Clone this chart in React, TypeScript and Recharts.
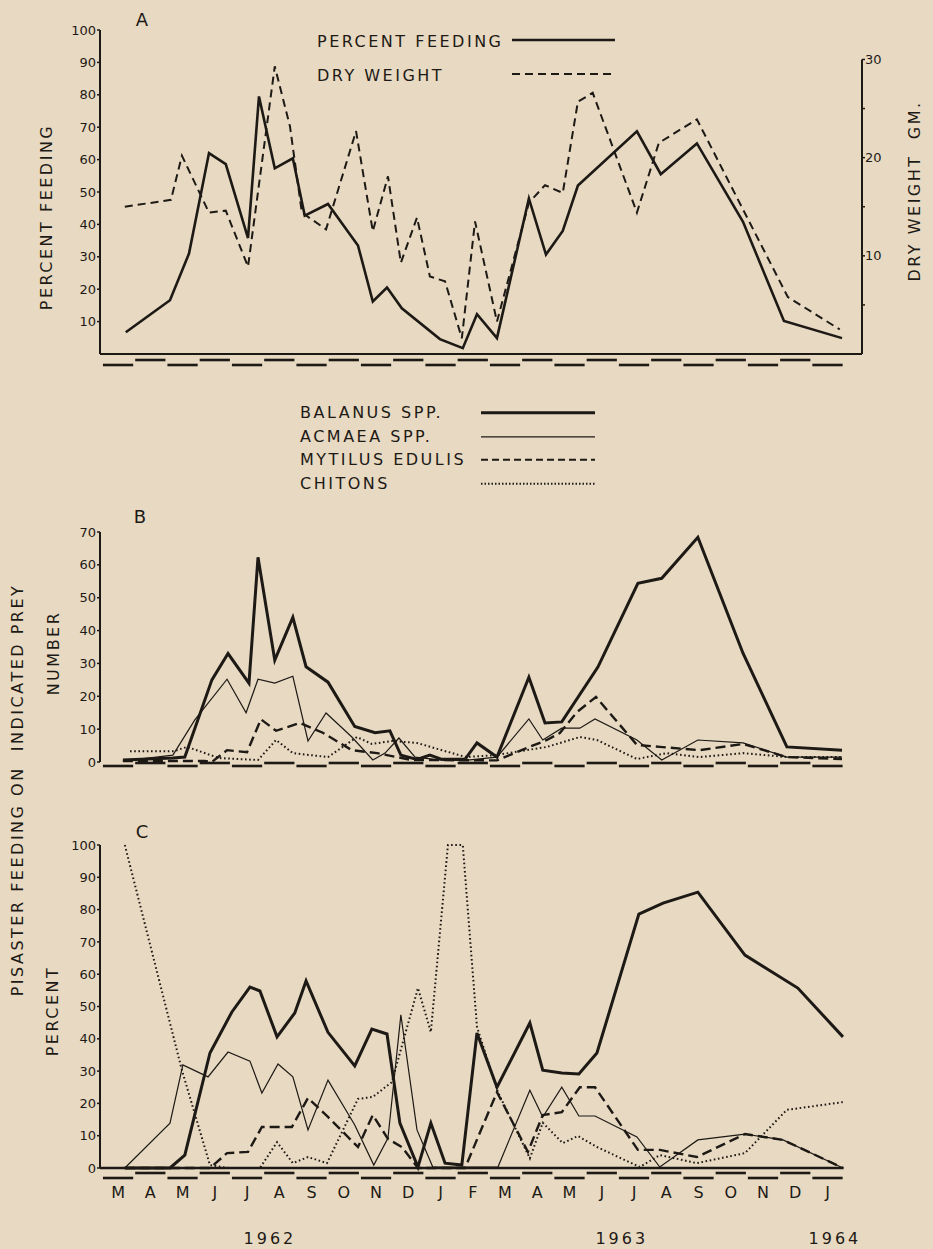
import React from 'react';
import { LineChart, Line, XAxis, YAxis, ReferenceLine, Legend } from 'recharts';

// months counted from 1 March 1962
const monthLabels = ['M', 'A', 'M', 'J', 'J', 'A', 'S', 'O', 'N', 'D', 'J', 'F', 'M', 'A', 'M', 'J', 'J', 'A', 'S', 'O', 'N', 'D', 'J'];
const yearLabels = ['1962', '1963', '1964'];
const yearTicks = [5.21, 16.12, 22.73];

// A: percent feeding / dry weight
const aFeedT = [0.74, 2.11, 2.7, 3.32, 3.84, 4.53, 4.87, 5.36, 5.92, 6.29, 7.01, 7.94, 8.4, 8.84, 9.3, 10.48, 11.19, 11.63, 12.25, 13.24, 13.77, 14.29, 14.76, 16.59, 17.33, 18.45, 19.88, 21.15, 22.95];
const aFeed = [6.7, 16.6, 31, 62, 58.6, 35.8, 79.5, 57.3, 60.4, 42.7, 46.3, 33.5, 16.2, 20.5, 14.1, 4.6, 1.8, 12.3, 4.9, 48, 30.7, 38, 52, 68.7, 55.5, 65, 40.8, 10.2, 4.9];
const aDryT = [0.71, 2.14, 2.48, 3.32, 3.84, 4.53, 5.36, 5.83, 6.2, 6.95, 7.88, 8.4, 8.87, 9.27, 9.77, 10.17, 10.64, 11.16, 11.57, 12.25, 13.24, 13.74, 14.29, 14.76, 15.22, 16.59, 17.27, 18.45, 21.27, 22.88];
const aDry = [15.0, 15.7, 20.2, 14.4, 14.6, 8.9, 29.3, 23.2, 14.4, 12.7, 22.7, 12.5, 18.1, 9.3, 13.9, 7.9, 7.4, 1.6, 13.5, 3.3, 15.4, 17.2, 16.4, 25.7, 26.6, 14.4, 21.5, 23.9, 5.8, 2.5];

// B: number of prey
const bBalT = [0.65, 2.2, 2.57, 3.41, 3.91, 4.56, 4.84, 5.36, 5.92, 6.33, 7.01, 7.84, 8.47, 8.93, 9.27, 9.77, 10.17, 10.54, 11.26, 11.63, 12.25, 13.24, 13.74, 14.26, 15.38, 16.62, 17.36, 18.48, 19.88, 21.24, 22.95];
const bBal = [0.6, 1.2, 1.5, 25, 33, 24, 62.3, 31, 44, 29, 24.3, 10.8, 8.9, 9.5, 2.1, 0.8, 2.1, 0.8, 0.8, 5.8, 1.5, 25.8, 11.9, 12.2, 28.9, 54.4, 55.9, 68.4, 33.1, 4.6, 3.6];
const bAcmT = [0.65, 2.2, 2.88, 3.88, 4.47, 4.84, 5.36, 5.92, 6.39, 6.95, 7.75, 8.4, 8.78, 9.21, 9.71, 10.54, 11.26, 12.25, 13.24, 13.67, 14.26, 14.82, 15.29, 16.59, 17.36, 18.48, 19.88, 21.24, 22.95];
const bAcm = [0.3, 2.1, 12.8, 25.2, 15, 25.2, 24, 26.1, 6.4, 14.9, 7.6, 0.6, 2.7, 7.3, 1.5, 0.6, 0.5, 1.5, 13.1, 6.7, 10.3, 10.3, 13.1, 6.7, 0.6, 6.7, 5.8, 1.5, 1.5];
const bMytT = [0.65, 2.57, 3.19, 3.41, 3.88, 4.5, 4.93, 5.4, 6.14, 6.85, 7.75, 8.53, 9.61, 12.25, 13.18, 13.8, 14.2, 14.73, 15.32, 16.59, 17.3, 18.54, 19.88, 21.24, 22.95];
const bMyt = [0.3, 0.3, 0.3, 0, 3.6, 3, 13, 9.5, 11.9, 8.9, 3.6, 2.7, 0.6, 0.5, 4.3, 6.7, 8.8, 15.2, 19.8, 5.2, 4.6, 3.6, 5.5, 1.5, 0.9];
const bChiT = [0.87, 2.23, 2.64, 3.63, 4.84, 5.4, 5.92, 7.01, 7.91, 8.37, 8.99, 9.77, 10.54, 11.29, 12.22, 13.8, 14.82, 15.35, 16.59, 17.52, 18.54, 19.88, 21.24, 22.95];
const bChi = [3.3, 3.3, 4.6, 1.2, 0.6, 6.7, 2.7, 1.5, 7.6, 5.5, 6.4, 5.8, 3.6, 1.5, 2.1, 4.6, 7.6, 6.7, 0.9, 2.7, 1.5, 2.7, 1.5, 1.5];

// C: percent of feeding on each prey
const cBalT = [0.71, 2.11, 2.57, 3.35, 4.03, 4.59, 4.9, 5.43, 5.98, 6.33, 7.01, 7.84, 8.37, 8.84, 9.24, 9.8, 10.2, 10.64, 11.16, 11.63, 12.25, 13.27, 13.67, 14.26, 14.79, 15.35, 16.65, 17.4, 18.48, 19.94, 21.58, 22.98];
const cBal = [0, 0, 4, 35.6, 48.3, 56, 54.8, 40.6, 48, 57.9, 42, 31.6, 43, 41.5, 13.9, 0.3, 13.9, 1.5, 0.9, 41.8, 25, 44.9, 30.3, 29.4, 29.1, 35.6, 78.6, 82, 85.4, 65.9, 55.7, 40.6];
const cAcmT = [0.71, 2.11, 2.51, 3.29, 3.91, 4.59, 4.96, 5.46, 5.92, 6.39, 7.01, 7.84, 8.43, 8.87, 9.27, 9.77, 10.26, 12.28, 13.27, 13.67, 14.26, 14.79, 15.29, 16.59, 17.3, 18.48, 19.94, 21.12, 22.98];
const cAcm = [0, 13.9, 31.9, 28.2, 35.9, 33.1, 23.2, 32.2, 28.2, 11.8, 27.2, 13.3, 0.9, 9.3, 47.4, 11.8, 0.3, 0.3, 24.1, 15.8, 25, 16.1, 16.1, 9.6, 0.3, 8.7, 10.5, 8.7, 0];
const cMytT = [0.71, 3.35, 3.88, 4.53, 4.96, 5.89, 6.39, 7.01, 7.94, 8.4, 8.87, 9.3, 9.8, 11.26, 12.25, 13.21, 13.67, 14.26, 14.82, 15.29, 16.62, 17.3, 18.45, 19.94, 21.12, 22.98];
const cMyt = [0, 0, 4.6, 5, 12.7, 12.7, 21.7, 15.8, 6.5, 16.4, 9, 6.5, 0, 0, 23.5, 5, 16.4, 17.3, 25, 25, 5.6, 5.6, 3.4, 10.5, 8.7, 0];
const cChiT = [0.71, 2.48, 3.35, 3.91, 4.9, 5.43, 5.92, 6.39, 6.98, 7.94, 8.4, 8.99, 9.8, 10.2, 10.73, 11.19, 11.63, 12.28, 13.27, 13.67, 14.29, 14.76, 15.35, 16.68, 17.3, 18.45, 19.94, 21.24, 22.98];
const cChi = [100, 30.3, 0.9, 0, 0, 8, 1.5, 3.4, 1.5, 21.4, 22, 26.6, 55.7, 42.1, 100, 100, 43.7, 23.5, 3, 14, 7.7, 9.9, 6.5, 0.3, 4, 1.5, 4.6, 18, 20.4];

const W = 933;
const X_DOMAIN: [number, number] = [-0.06, 23.57];
const PLOT_W = 762;
const MONTH_PX = PLOT_W / (X_DOMAIN[1] - X_DOMAIN[0]);
const monthTicks = monthLabels.map((_, i) => i + 0.5);

const INK = '#1d1915';
const PAPER = '#e8d9c2';
const FONT = '"DejaVu Sans", Verdana, sans-serif';

const pts = (t: number[], v: number[]) => t.map((m, i) => ({ m, v: v[i] }));

const STYLE = {
  feeding: { stroke: INK, strokeWidth: 2.6 },
  dry: { stroke: INK, strokeWidth: 2, strokeDasharray: '8 5' },
  balanus: { stroke: INK, strokeWidth: 3 },
  acmaea: { stroke: INK, strokeWidth: 1.2 },
  mytilus: { stroke: INK, strokeWidth: 2.4, strokeDasharray: '10 5' },
  chitons: { stroke: INK, strokeWidth: 2, strokeDasharray: '1.6 2.6' },
};

const legendA = [
  { name: 'PERCENT FEEDING', style: STYLE.feeding },
  { name: 'DRY WEIGHT', style: STYLE.dry },
];
const legendPrey = [
  { name: 'BALANUS SPP.', style: STYLE.balanus },
  { name: 'ACMAEA SPP.', style: STYLE.acmaea },
  { name: 'MYTILUS EDULIS', style: { ...STYLE.mytilus, strokeWidth: 2, strokeDasharray: '7 4' } },
  { name: 'CHITONS', style: { ...STYLE.chitons, strokeDasharray: '1.5 2' } },
];

const LegendBlock = ({ items, lineLeft, lineLen, rowGap, dy }: any) => (
  <div style={{ position: 'relative', width: lineLeft + lineLen + 4, height: rowGap * items.length, fontFamily: FONT, fontSize: 16, letterSpacing: 2.5, color: INK }}>
    {items.map((it: any, i: number) => (
      <div key={it.name} style={{ position: 'absolute', left: 0, top: i * rowGap, height: rowGap, width: '100%' }}>
        <span style={{ position: 'absolute', left: 0, top: 0, lineHeight: rowGap + 'px', whiteSpace: 'nowrap' }}>{it.name}</span>
        <svg style={{ position: 'absolute', left: lineLeft, top: 0 }} width={lineLen} height={rowGap}>
          <line x1={0} x2={lineLen} y1={rowGap / 2 + dy} y2={rowGap / 2 + dy} {...it.style} />
        </svg>
      </div>
    ))}
  </div>
);

const MonthTick = ({ x, y, index, offsets, showLabel }: any) => {
  const off = index % 2 === 0 ? offsets[1] : offsets[0];
  return (
    <g>
      <line x1={x - MONTH_PX / 2 + 1} x2={x + MONTH_PX / 2 - 1} y1={y + off} y2={y + off} stroke={INK} strokeWidth={2.6} />
      {showLabel && (
        <text x={x} y={y + 30} textAnchor="middle" fontSize={16} fill={INK} fontFamily={FONT}>
          {monthLabels[index]}
        </text>
      )}
    </g>
  );
};

const YearTick = ({ x, y, index }: any) => (
  <text x={x} y={y + 46} textAnchor="middle" fontSize={16} letterSpacing={3} fill={INK} fontFamily={FONT}>
    {yearLabels[index]}
  </text>
);

const VText = ({ cx, cy, children }: any) => (
  <div style={{ position: 'absolute', left: cx, top: cy, transform: 'translate(-50%, -50%) rotate(-90deg)', whiteSpace: 'nowrap', fontFamily: FONT, fontSize: 16, letterSpacing: 2.5, color: INK, lineHeight: 1 }}>
    {children}
  </div>
);

const Letter = ({ cx, cy, children }: any) => (
  <div style={{ position: 'absolute', left: cx, top: cy, transform: 'translate(-50%, -50%)', fontFamily: FONT, fontSize: 18, color: INK, lineHeight: 1 }}>
    {children}
  </div>
);

const tickStyle = { fill: INK, fontSize: 13, fontFamily: FONT };
const axisStroke = { stroke: INK, strokeWidth: 2 };
const tickStroke = { stroke: INK, strokeWidth: 1.5 };

const App = () => {
  const feeding = pts(aFeedT, aFeed);
  const dry = pts(aDryT, aDry);

  return (
    <div style={{ position: 'absolute', left: 0, top: 0, width: W, height: 1249, background: PAPER, overflow: 'hidden' }}>
      {/* A */}
      <div style={{ position: 'absolute', left: 0, top: 0 }}>
        <LineChart width={W} height={380} margin={{ top: 30, right: 31, bottom: 6, left: 40 }}>
          <XAxis dataKey="m" type="number" domain={X_DOMAIN} allowDataOverflow ticks={monthTicks} interval={0}
            tickLine={false} tickSize={0} tickMargin={0} height={20} axisLine={axisStroke}
            tick={(p: any) => <MonthTick {...p} offsets={[6, 11]} />} />
          <YAxis yAxisId="left" domain={[0, 100]} ticks={[10, 20, 30, 40, 50, 60, 70, 80, 90, 100]} interval={0}
            width={60} tickSize={3} tickMargin={1} tick={tickStyle} axisLine={axisStroke} tickLine={tickStroke} />
          <YAxis yAxisId="right" orientation="right" domain={[0, 33]} ticks={[5, 10, 15, 20, 25, 30]} interval={0}
            width={40} tickSize={3} tickMargin={0} tick={tickStyle} axisLine={false} tickLine={tickStroke}
            tickFormatter={(v: number) => (v % 10 === 0 ? String(v) : '')} />
          <ReferenceLine yAxisId="right" ifOverflow="visible" stroke={INK} strokeWidth={2}
            segment={[{ x: X_DOMAIN[1], y: 0 }, { x: X_DOMAIN[1], y: 30 }]} />
          <Line yAxisId="left" data={feeding} dataKey="v" name="PERCENT FEEDING" type="linear" dot={false} isAnimationActive={false} {...STYLE.feeding} />
          <Line yAxisId="right" data={dry} dataKey="v" name="DRY WEIGHT" type="linear" dot={false} isAnimationActive={false} {...STYLE.dry} />
          <Legend layout="vertical" align="center" verticalAlign="middle"
            wrapperStyle={{ left: 317, top: 25, width: 310 }}
            content={() => <LegendBlock items={legendA} lineLeft={195} lineLen={103} rowGap={34} dy={-2} />} />
        </LineChart>
      </div>

      {/* B */}
      <div style={{ position: 'absolute', left: 0, top: 380 }}>
        <LineChart width={W} height={410} margin={{ top: 152, right: 71, bottom: 8, left: 40 }}>
          <XAxis dataKey="m" type="number" domain={X_DOMAIN} allowDataOverflow ticks={monthTicks} interval={0}
            tickLine={false} tickSize={0} tickMargin={0} height={20} axisLine={false}
            tick={(p: any) => <MonthTick {...p} offsets={[1, 4]} />} />
          <YAxis domain={[0, 70]} ticks={[0, 10, 20, 30, 40, 50, 60, 70]} interval={0}
            width={60} tickSize={3} tickMargin={1} tick={tickStyle} axisLine={axisStroke} tickLine={tickStroke} />
          <Line data={pts(bChiT, bChi)} dataKey="v" name="CHITONS" type="linear" dot={false} isAnimationActive={false} {...STYLE.chitons} />
          <Line data={pts(bMytT, bMyt)} dataKey="v" name="MYTILUS EDULIS" type="linear" dot={false} isAnimationActive={false} {...STYLE.mytilus} />
          <Line data={pts(bAcmT, bAcm)} dataKey="v" name="ACMAEA SPP." type="linear" dot={false} isAnimationActive={false} {...STYLE.acmaea} />
          <Line data={pts(bBalT, bBal)} dataKey="v" name="BALANUS SPP." type="linear" dot={false} isAnimationActive={false} {...STYLE.balanus} />
          <Legend layout="vertical" align="center" verticalAlign="middle"
            wrapperStyle={{ left: 300, top: 21, width: 300 }}
            content={() => <LegendBlock items={legendPrey} lineLeft={181} lineLen={114} rowGap={23.7} dy={0} />} />
        </LineChart>
      </div>

      {/* C */}
      <div style={{ position: 'absolute', left: 0, top: 790 }}>
        <LineChart width={W} height={459} margin={{ top: 55, right: 71, bottom: 6, left: 40 }}>
          <XAxis dataKey="m" type="number" domain={X_DOMAIN} allowDataOverflow ticks={monthTicks} interval={0}
            tickLine={false} tickSize={0} tickMargin={0} height={30} axisLine={false}
            tick={(p: any) => <MonthTick {...p} offsets={[5, 10]} showLabel />} />
          <XAxis xAxisId="yr" dataKey="m" type="number" domain={X_DOMAIN} allowDataOverflow ticks={yearTicks} interval={0}
            tickLine={false} tickSize={0} tickMargin={0} height={45} axisLine={false}
            tick={(p: any) => <YearTick {...p} />} />
          <YAxis domain={[0, 100]} ticks={[0, 10, 20, 30, 40, 50, 60, 70, 80, 90, 100]} interval={0}
            width={60} tickSize={3} tickMargin={1} tick={tickStyle} axisLine={axisStroke} tickLine={tickStroke} />
          <ReferenceLine ifOverflow="visible" stroke={INK} strokeWidth={2.4}
            segment={[{ x: X_DOMAIN[0], y: 0 }, { x: 23, y: 0 }]} />
          <Line data={pts(cChiT, cChi)} dataKey="v" name="CHITONS" type="linear" dot={false} isAnimationActive={false} {...STYLE.chitons} />
          <Line data={pts(cMytT, cMyt)} dataKey="v" name="MYTILUS EDULIS" type="linear" dot={false} isAnimationActive={false} {...STYLE.mytilus} />
          <Line data={pts(cAcmT, cAcm)} dataKey="v" name="ACMAEA SPP." type="linear" dot={false} isAnimationActive={false} {...STYLE.acmaea} />
          <Line data={pts(cBalT, cBal)} dataKey="v" name="BALANUS SPP." type="linear" dot={false} isAnimationActive={false} {...STYLE.balanus} />
        </LineChart>
      </div>

      <Letter cx={142} cy={20}>A</Letter>
      <Letter cx={140} cy={517}>B</Letter>
      <Letter cx={142} cy={832}>C</Letter>
      <VText cx={47} cy={217}>PERCENT FEEDING</VText>
      <VText cx={915} cy={191}>DRY WEIGHT&nbsp;&nbsp;GM.</VText>
      <VText cx={54} cy={653}>NUMBER</VText>
      <VText cx={53} cy={1011}>PERCENT</VText>
      <VText cx={18} cy={790}>PISASTER FEEDING ON&nbsp;&nbsp;INDICATED PREY</VText>
    </div>
  );
};

export default App;
